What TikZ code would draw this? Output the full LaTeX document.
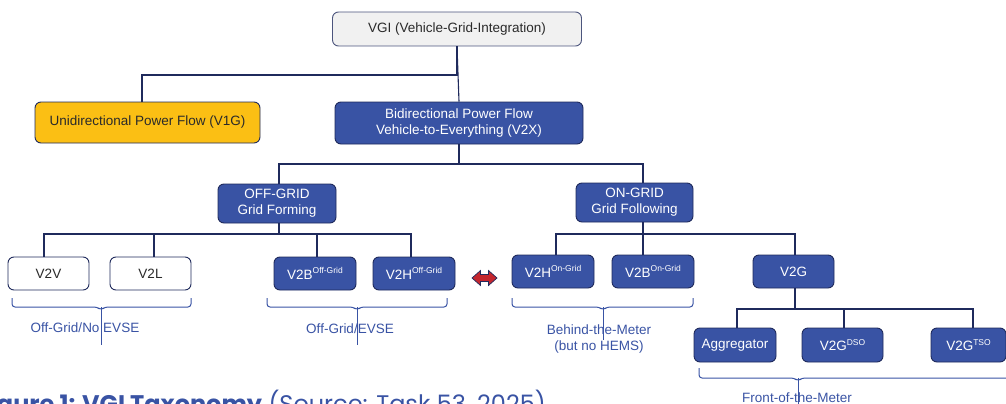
\documentclass[tikz,border=0pt]{standalone}
\usepackage{fontspec}
\setmainfont{Liberation Sans}
\newfontfamily\popfont{Poppins}
\definecolor{vblue}{HTML}{3953A4}
\definecolor{navy}{HTML}{1F2A5C}
\definecolor{vgray}{HTML}{F1F1F1}
\definecolor{vyellow}{HTML}{FBBF14}
\definecolor{txt}{HTML}{2A2A2A}
\definecolor{arrred}{HTML}{C4262E}
\newcommand\supx[1]{\raisebox{0.42em}{\fontsize{8.5}{9}\selectfont #1}}
\tikzset{
  base/.style={rounded corners=6pt, draw=navy, line width=0.9pt, align=center,
    inner sep=2pt, font=\fontsize{13.5}{16}\selectfont},
  bluebox/.style={base, fill=vblue, text=white},
  whitebox/.style={base, fill=white, text=txt},
  graybox/.style={base, fill=vgray, text=txt, draw=navy!80},
  yellowbox/.style={base, fill=vyellow, text=txt},
  conn/.style={draw=navy, line width=1.1pt},
  brace/.style={draw=vblue, line width=1pt, rounded corners=3pt},
  braceline/.style={draw=vblue, line width=0.7pt},
  bracelabel/.style={text=vblue, align=center, inner sep=0pt, font=\fontsize{13.5}{16}\selectfont},
  blockarrow/.style={draw=navy, line width=0.7pt, fill=arrred, line join=miter},
}
\begin{document}
\begin{tikzpicture}[x=1pt, y=-1pt]
\useasboundingbox (0,0) rectangle (1006,404);
% level 0
\node[graybox, minimum width=249pt, minimum height=34pt] (vgi) at (457,29) {VGI (Vehicle-Grid-Integration)};
% level 1
\node[yellowbox, minimum width=225pt, minimum height=41pt] (v1g) at (147.5,122.5) {Unidirectional Power Flow (V1G)};
\node[bluebox, minimum width=248pt, minimum height=42pt] (v2x) at (459,123) {Bidirectional Power Flow\\Vehicle-to-Everything (V2X)};
% level 2
\node[bluebox, minimum width=118pt, minimum height=39pt] (off) at (277,203.5) {OFF-GRID\\Grid Forming};
\node[bluebox, minimum width=117pt, minimum height=39pt] (on) at (634.5,202.5) {ON-GRID\\Grid Following};
% level 3 off-grid
\node[whitebox, minimum width=81pt, minimum height=33pt] (v2v) at (48.5,273.5) {V2V};
\node[whitebox, minimum width=81pt, minimum height=33pt] (v2l) at (150.5,273.5) {V2L};
\node[bluebox, minimum width=82pt, minimum height=33pt] (v2boff) at (315,273.5) {V2B\supx{Off-Grid}};
\node[bluebox, minimum width=82pt, minimum height=33pt] (v2hoff) at (414,273.5) {V2H\supx{Off-Grid}};
% level 3 on-grid
\node[bluebox, minimum width=82pt, minimum height=33pt] (v2hon) at (553,271.5) {V2H\supx{On-Grid}};
\node[bluebox, minimum width=82pt, minimum height=33pt] (v2bon) at (653,271.5) {V2B\supx{On-Grid}};
\node[bluebox, minimum width=81pt, minimum height=33pt] (v2g) at (793.5,271.5) {V2G};
% level 4
\node[bluebox, minimum width=82pt, minimum height=34pt] (agg) at (735,345) {Aggregator};
\node[bluebox, minimum width=81pt, minimum height=34pt] (dso) at (842.5,345) {V2G\supx{DSO}};
\node[bluebox, minimum width=75pt, minimum height=34pt] (tso) at (968.5,345) {V2G\supx{TSO}};
% connectors
\draw[conn] (vgi.south) |- (142,75) coordinate (b0) -- ([xshift=-5.5pt]v1g.north);
\draw[conn] (vgi.south) -- (v2x.north);
\draw[conn] (v2x.south) -- (v2x.south |- 0,164) coordinate (b1);
\draw[conn] ([xshift=2pt]off.north) |- (b1) -| ([xshift=8.5pt]on.north);
\draw[conn] ([xshift=2pt]off.south) -- ([xshift=2pt]off.south |- 0,234) coordinate (b2);
\draw[conn] ([xshift=-4.5pt]v2v.north) |- ([xshift=-3pt]v2hoff.north |- b2) -- ([xshift=-3pt]v2hoff.north);
\draw[conn] ([xshift=3.5pt]v2l.north) -- ([xshift=3.5pt]v2l.north |- b2);
\draw[conn] ([xshift=2pt]v2boff.north) -- ([xshift=2pt]v2boff.north |- b2);
\draw[conn] ([xshift=8.5pt]on.south) -- ([xshift=8.5pt]on.south |- 0,234) coordinate (b3);
\draw[conn] ([xshift=3pt]v2hon.north) |- ([xshift=1.5pt]v2g.north |- b3) -- ([xshift=1.5pt]v2g.north);
\draw[conn] ([xshift=-10pt]v2bon.north) -- ([xshift=-10pt]v2bon.north |- b3);
\draw[conn] ([xshift=1.5pt]v2g.south) -- ([xshift=1.5pt]v2g.south |- 0,309) coordinate (b4);
\draw[conn] ([xshift=2pt]agg.north) |- ([xshift=4.5pt]tso.north |- b4) -- ([xshift=4.5pt]tso.north);
\draw[conn] ([xshift=1.5pt]dso.north) -- ([xshift=1.5pt]dso.north |- b4);
% double block arrow
\draw[blockarrow] (472,278) -- (480.5,270.5) -- (480.5,274.5) -- (488.5,274.5) -- (488.5,270.5)
  -- (497,278) -- (488.5,285.5) -- (488.5,281.5) -- (480.5,281.5) -- (480.5,285.5) -- cycle;
% braces
\draw[brace] (12,298) -- (12,307) -- (97,307) -- (101,310) -- (105,307) -- (191,307) -- (191,298);
\draw[braceline] (101,307) -- (101,345);
\draw[brace] (267,298) -- (267,307) -- (353,307) -- (357,310) -- (361,307) -- (447,307) -- (447,298);
\draw[braceline] (357,307) -- (357,345);
\draw[brace] (512,298) -- (512,307) -- (599,307) -- (603,310) -- (607,307) -- (693,307) -- (693,298);
\draw[braceline] (603,307) -- (603,340);
\draw[brace] (699,368) -- (699,378) -- (794,378) -- (798,381) -- (802,378) -- (1015,378);
\draw[braceline] (798,378) -- (798,410);
% brace labels
\node[bracelabel] (l1) at (85,328) {Off-Grid/No EVSE};
\node[bracelabel] (l2) at (350,329) {Off-Grid/EVSE};
\node[bracelabel] (l3) at (599,339) {Behind-the-Meter\\(but no HEMS)};
\node[bracelabel] (l4) at (797,398) {Front-of-the-Meter};
% caption (cut off at the lower edge, as in the reference)
\node[anchor=base east, inner sep=0pt, text=vblue, font=\popfont\fontsize{24}{28}\selectfont] (cap) at (546,412)
  {\textbf{Figure 1: VGI Taxonomy} (Source: Task 53, 2025)};
\end{tikzpicture}
\end{document}
